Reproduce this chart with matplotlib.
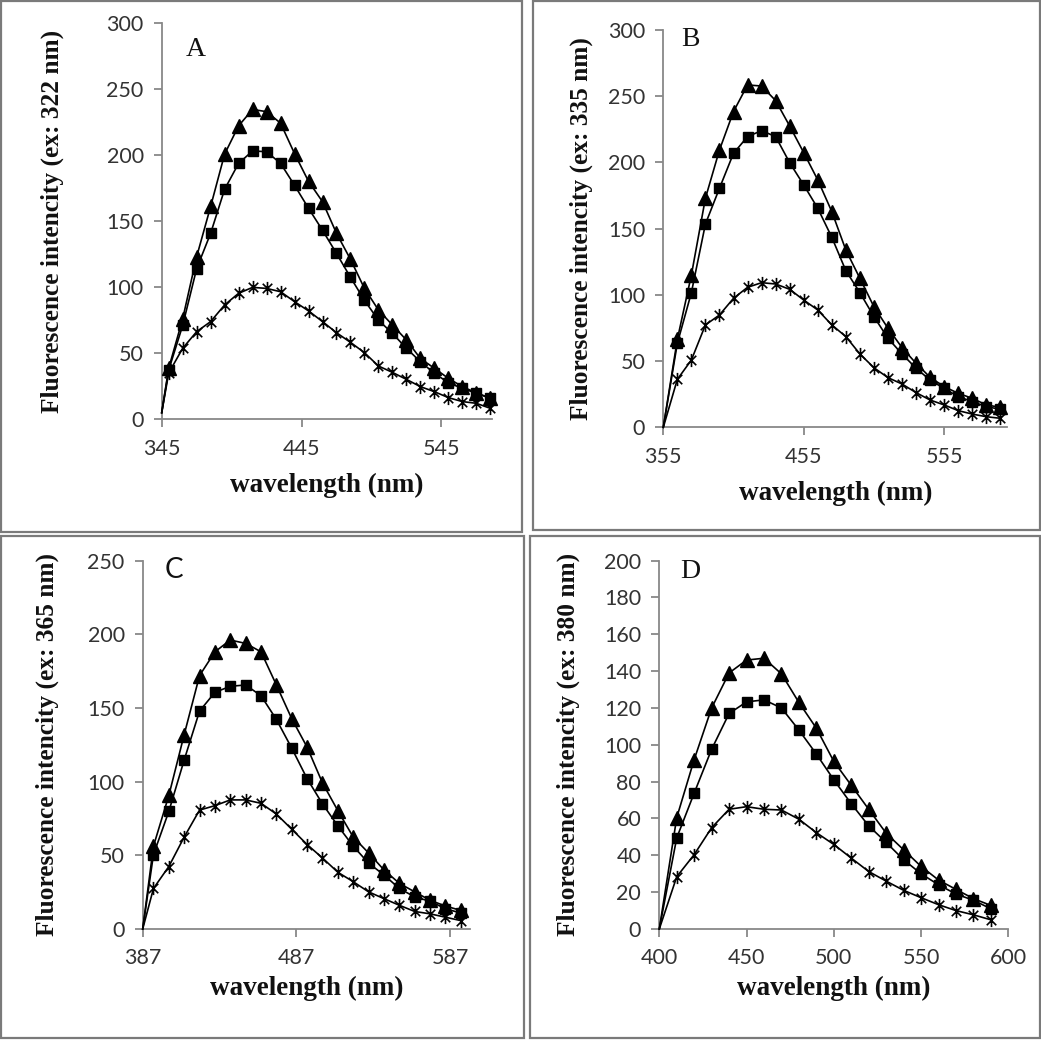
import matplotlib
matplotlib.use("Agg")
import matplotlib.pyplot as plt
from matplotlib.patches import Rectangle
from matplotlib.path import Path

# ---------------- data ----------------
A_wl = [345, 350, 360, 370, 380, 390, 400, 410, 420, 430, 440, 450, 460, 470, 480, 490,
        500, 510, 520, 530, 540, 550, 560, 570, 580]
A_tri = [5, 38.6, 76, 123, 161, 200.6, 222, 234.4, 232.7, 224, 201, 180, 164.6, 140.7, 121,
         99, 82.7, 71.3, 60, 46, 38.6, 31, 24.7, 20, 16]
A_sq = [5, 37.3, 71, 114, 140.7, 174, 193.6, 203, 202.4, 193.6, 177, 159.6, 143, 125.5, 107.4,
        90, 75, 65, 53.7, 43.6, 34.8, 27.7, 23.4, 19.7, 15.9]
A_star = [5, 35, 53.7, 66.3, 73.9, 86.5, 95.3, 99.8, 99, 96.5, 89, 82, 73.9, 65.5, 58.2,
          50.4, 40.3, 35.5, 30.2, 24.7, 20.9, 16.4, 13.4, 12.1, 8.3]

B_wl = [355, 365, 375, 385, 395, 405, 415, 425, 435, 445, 455, 465, 475, 485, 495, 505,
        515, 525, 535, 545, 555, 565, 575, 585, 595]
B_tri = [0, 66.4, 115, 173, 209.4, 238.4, 258.5, 257.7, 246.7, 227.5, 207.4, 186.8, 162.9,
         133.9, 112.5, 91.1, 74.8, 60.2, 48.3, 37.8, 30.7, 25.7, 21.9, 16.9, 15.1]
B_sq = [0, 63.4, 101.7, 153.5, 180.5, 206.9, 219.5, 224, 219.5, 199.8, 183, 165.4, 143.5,
        118.3, 101.7, 83.6, 67.2, 55.4, 44.6, 35.7, 29.4, 23.2, 19.4, 15.6, 13.6]
B_star = [0, 36.2, 50.8, 77.3, 84.8, 97.4, 105.7, 109.2, 108.2, 104.2, 96.1, 88.6, 77.3,
          68.5, 55.4, 45, 37.5, 32.7, 26.2, 20.6, 16.9, 12.6, 10, 8, 6.8]

C_wl = [387, 394, 404, 414, 424, 434, 444, 454, 464, 474, 484, 494, 504, 514, 524, 534,
        544, 554, 564, 574, 584, 594]
C_tri = [0, 56.2, 90.6, 131.9, 172, 188.1, 196.1, 193.8, 188.1, 165.6, 142.7, 123.4, 99.1,
         80.3, 62.4, 51.6, 40.1, 31, 25.2, 19.5, 15.6, 12.6]
C_sq = [0, 50.5, 79.8, 114.7, 147.9, 160.6, 164.7, 165.6, 158.3, 142.2, 122.7, 102, 84.9,
        70, 56.2, 44.7, 36.7, 27.5, 21.8, 18.8, 13.8, 10.8]
C_star = [0, 27.5, 42.4, 62.4, 80.7, 83.7, 87.6, 87.6, 85.3, 78, 67.7, 57.3, 48.2, 38.5,
          32.1, 25.2, 20.6, 16.1, 11.9, 10.3, 8, 5.7]

D_wl = [400, 410, 420, 430, 440, 450, 460, 470, 480, 490, 500, 510, 520, 530, 540, 550,
        560, 570, 580, 590]
D_tri = [0, 60.5, 92, 120, 139, 146, 147, 138.5, 123, 109, 91, 78, 65, 52, 43, 34, 26.6,
         21.5, 16.5, 12.8]
D_sq = [0, 49.5, 73.8, 97.6, 117, 123.3, 124.4, 120, 108, 95, 81, 68, 56, 47, 37.6, 30, 24,
        19, 15.6, 11]
D_star = [0, 28.4, 40.4, 55, 65, 66.4, 65, 64.6, 59.6, 52.3, 45.9, 38.5, 31.2, 26, 21, 17,
          13.2, 10, 7.7, 5]

A_xticks = [345, 445, 545]
B_xticks = [355, 455, 555]
C_xticks = [387, 487, 587]
D_xticks = [400, 450, 500, 550, 600]
A_yticks = [0, 50, 100, 150, 200, 250, 300]
B_yticks = [0, 50, 100, 150, 200, 250, 300]
C_yticks = [0, 50, 100, 150, 200, 250]
D_yticks = [0, 20, 40, 60, 80, 100, 120, 140, 160, 180, 200]

ylabels = ["Fluorescence intencity (ex: 322 nm)",
           "Fluorescence intencity (ex: 335 nm)",
           "Fluorescence intencity (ex: 365 nm)",
           "Fluorescence intencity (ex: 380 nm)"]
letters = ["A", "B", "C", "D"]

# ---------------- figure ----------------
W, H = 1041, 1050
fig = plt.figure(figsize=(W / 100, H / 100), dpi=100)
fig.patch.set_facecolor("white")


def fx(px):
    return px / W


def fy(py):
    return 1 - py / H


# panel frames (pixel boxes)
frames = [(1, 1, 522, 532), (533, 1, 1040, 530), (1, 536, 524, 1038), (530, 536, 1040, 1038)]
for x0, y0, x1, y1 in frames:
    fig.add_artist(Rectangle((fx(x0), fy(y1)), fx(x1 - x0), y1 / H - y0 / H,
                             transform=fig.transFigure, fill=False,
                             edgecolor="#7a7a7a", linewidth=1.6))

# axes rectangles in pixel coords: (left, right, top, bottom)
ax_px = [(161.7, 491.7, 22.7, 419.3),
         (663.3, 1007.3, 30.0, 427.3),
         (142.7, 470.0, 560.6, 929.0),
         (659.3, 1008.3, 560.6, 929.0)]
xlims = [(345, 581), (355, 600), (387, 600), (400, 600)]
ylims = [(0, 300), (0, 300), (0, 250), (0, 200)]
xticks = [A_xticks, B_xticks, C_xticks, D_xticks]
yticks = [A_yticks, B_yticks, C_yticks, D_yticks]
series = [(A_wl, A_star, A_sq, A_tri), (B_wl, B_star, B_sq, B_tri),
          (C_wl, C_star, C_sq, C_tri), (D_wl, D_star, D_sq, D_tri)]
ylabel_x = [52, 581, 47, 568]
xlabel_y = [485, 493, 988, 988]
letter_pos = [(196, 50), (690, 40), (174, 570), (690, 571)]
letter_font = ["Liberation Serif", "Liberation Serif", "Lato", "Liberation Serif"]

star_path = Path([(0, -1), (0, 1), (-0.72, -0.72), (0.72, 0.72), (-0.72, 0.72), (0.72, -0.72)],
                 [Path.MOVETO, Path.LINETO, Path.MOVETO, Path.LINETO, Path.MOVETO, Path.LINETO])

tick_font = "Lato"
tick_color = "#333333"
spine_color = "#888888"

for i in range(4):
    l, r, t, b = ax_px[i]
    ax = fig.add_axes([fx(l), fy(b), (r - l) / W, (b - t) / H])
    ax.set_facecolor("none")
    wl, st, sq, tr = series[i]
    ax.plot(wl, st, color="black", lw=1.2, marker=star_path, ms=9.5, mew=1.2,
            mfc="none", mec="black", markevery=slice(1, None), clip_on=False, zorder=3)
    ax.plot(wl, sq, color="black", lw=1.2, marker="s", ms=7.5, mfc="black", mec="black",
            markevery=slice(1, None), clip_on=False, zorder=4)
    ax.plot(wl, tr, color="black", lw=1.2, marker="^", ms=9.5, mfc="black", mec="black",
            markevery=slice(1, None), clip_on=False, zorder=5)
    ax.set_xlim(*xlims[i])
    ax.set_ylim(*ylims[i])
    ax.set_xticks(xticks[i])
    ax.set_yticks(yticks[i])
    for s in ["top", "right"]:
        ax.spines[s].set_visible(False)
    for s in ["left", "bottom"]:
        ax.spines[s].set_color(spine_color)
        ax.spines[s].set_linewidth(1.3)
    ax.tick_params(axis="both", direction="out", length=6, width=1.3, color=spine_color,
                   labelcolor=tick_color, labelsize=15.5)
    ax.tick_params(axis="y", pad=7)
    ax.tick_params(axis="x", pad=8)
    for lab in ax.get_xticklabels() + ax.get_yticklabels():
        lab.set_fontfamily(tick_font)
    # letters
    lx, ly = letter_pos[i]
    fig.text(fx(lx), fy(ly), letters[i], ha="center", va="center", fontsize=20,
             family=letter_font[i], color="#111111")
    # labels
    fig.text(fx(ylabel_x[i]), fy((t + b) / 2 + 0), ylabels[i], rotation=90, ha="center",
             va="center", fontsize=18.3, fontweight="bold", family="Liberation Serif",
             color="#111111")
    fig.text(fx((l + r) / 2), fy(xlabel_y[i]), "wavelength (nm)", ha="center", va="center",
             fontsize=19.5, fontweight="bold", family="Liberation Serif", color="#111111")

fig.savefig("out.png", dpi=100, facecolor="white")
